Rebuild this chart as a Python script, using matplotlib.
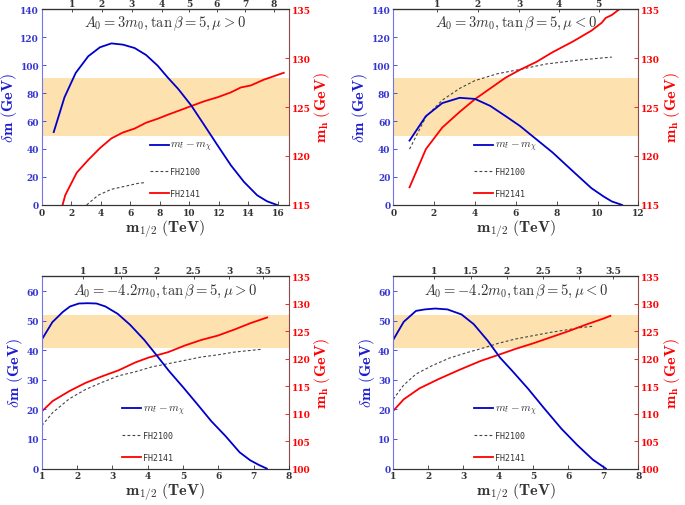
import matplotlib.pyplot as plt

plt.rcParams["font.family"] = "DejaVu Serif"
plt.rcParams["font.weight"] = "bold"
plt.rcParams["mathtext.fontset"] = "cm"

# ---- panel 1: A0 = 3 m0, mu > 0
p1_blue_x = [0.81, 1.54, 2.3, 3.15, 3.94, 4.72, 5.5, 6.29, 7.07, 7.85, 8.52, 9.24, 10.13,
             11.03, 11.92, 12.82, 13.71, 14.6, 15.27, 15.94]
p1_blue_y = [52.1, 77.0, 94.4, 106.3, 112.7, 115.5, 114.6, 112.2, 107.2, 99.6, 91.3, 83.0,
             71.1, 56.8, 42.5, 28.3, 16.4, 6.9, 2.6, 0.0]
p1_red_x = [1.41, 1.59, 2.37, 3.15, 3.94, 4.72, 5.5, 6.29, 7.07, 7.85, 8.52, 9.24, 10.13,
            11.03, 11.92, 12.82, 13.49, 14.16, 15.06, 16.4]
p1_red_mh = [115.0, 116.0, 118.3, 119.6, 120.8, 121.8, 122.4, 122.8, 123.4, 123.8, 124.2,
             124.6, 125.1, 125.6, 126.0, 126.5, 127.0, 127.2, 127.8, 128.5]
p1_fh_x = [3.04, 3.83, 4.72, 5.62, 6.51, 7.07]
p1_fh_mh = [115.0, 116.0, 116.6, 116.9, 117.2, 117.3]
p1_top_pos = [2.05, 4.07, 6.1, 8.12, 10.0, 11.85, 13.8, 15.74]
p1_top_lab = ["1", "2", "3", "4", "5", "6", "7", "8"]

# ---- panel 2: A0 = 3 m0, mu < 0
p2_blue_x = [0.8, 1.6, 2.4, 3.25, 4.0, 4.75, 5.5, 6.2, 7.0, 7.8, 8.8, 9.7, 10.3, 10.7, 11.2]
p2_blue_y = [46.0, 63.5, 72.8, 76.6, 75.8, 70.8, 63.5, 56.5, 47.0, 37.5, 24.0, 12.0, 6.0, 2.5, 0.0]
p2_red_x = [0.8, 1.6, 2.4, 3.25, 4.0, 4.75, 5.5, 6.2, 7.0, 7.8, 8.8, 9.7, 10.2, 10.4, 10.7, 11.2]
p2_red_mh = [116.8, 120.7, 122.9, 124.5, 125.8, 126.9, 128.0, 128.8, 129.6, 130.6, 131.7,
             132.8, 133.6, 134.1, 134.4, 135.2]
p2_fh_x = [0.8, 1.6, 2.4, 3.25, 4.0, 5.1, 6.1, 7.5, 9.1, 10.7]
p2_fh_mh = [120.7, 124.0, 125.7, 126.9, 127.7, 128.4, 128.8, 129.4, 129.8, 130.1]
p2_top_pos = [2.14, 4.15, 6.17, 8.1, 10.05]
p2_top_lab = ["1", "2", "3", "4", "5"]

# ---- panel 3: A0 = -4.2 m0, mu > 0
p3_blue_x = [1.0, 1.3, 1.6, 1.8, 2.05, 2.3, 2.55, 2.8, 3.15, 3.5, 3.9, 4.25, 4.6, 5.0, 5.4,
             5.8, 6.2, 6.6, 6.9, 7.15, 7.37]
p3_blue_y = [43.6, 49.5, 53.0, 54.8, 55.8, 55.9, 55.8, 54.8, 52.3, 48.6, 43.5, 38.3, 33.0,
             27.5, 21.8, 16.0, 11.0, 5.5, 2.8, 1.2, 0.0]
p3_red_x = [1.0, 1.31, 1.78, 2.24, 2.71, 3.18, 3.64, 4.02, 4.58, 5.05, 5.51, 5.98, 6.45, 6.92, 7.38]
p3_red_mh = [110.4, 112.3, 114.1, 115.6, 116.8, 117.9, 119.3, 120.2, 121.2, 122.4, 123.4,
             124.2, 125.3, 126.5, 127.5]
p3_fh_x = [1.0, 1.31, 1.78, 2.24, 2.71, 3.18, 3.64, 4.11, 4.58, 5.05, 5.51, 5.98, 6.45, 7.2]
p3_fh_mh = [107.8, 110.2, 112.7, 114.4, 115.7, 116.9, 117.6, 118.5, 119.1, 119.7, 120.3,
            120.7, 121.2, 121.7]
p3_top_pos = [2.18, 3.23, 4.24, 5.3, 6.3, 7.27]
p3_top_lab = ["1", "1.5", "2", "2.5", "3", "3.5"]

# ---- panel 4: A0 = -4.2 m0, mu < 0
p4_blue_x = [1.0, 1.3, 1.65, 1.9, 2.2, 2.55, 2.95, 3.3, 3.7, 4.05, 4.4, 4.85, 5.3, 5.8,
             6.25, 6.7, 7.07]
p4_blue_y = [43.5, 49.6, 53.3, 53.8, 54.1, 53.8, 52.1, 48.8, 43.2, 37.5, 33.0, 27.0, 20.5,
             13.5, 8.0, 3.0, 0.0]
p4_red_x = [1.0, 1.3, 1.75, 2.3, 2.9, 3.5, 4.05, 4.5, 5.0, 5.5, 6.0, 6.5, 7.0, 7.2]
p4_red_mh = [110.5, 112.6, 114.6, 116.3, 118.0, 119.6, 120.8, 121.8, 122.8, 123.9, 125.0,
             126.2, 127.3, 127.8]
p4_fh_x = [1.0, 1.3, 1.65, 2.1, 2.6, 3.1, 3.6, 4.0, 4.5, 5.0, 5.5, 6.0, 6.4, 6.7]
p4_fh_mh = [112.6, 115.2, 117.2, 118.7, 120.1, 121.1, 122.0, 122.8, 123.6, 124.2, 124.8,
            125.3, 125.7, 125.9]
p4_top_pos = [2.17, 3.22, 4.25, 5.28, 6.29, 7.28]
p4_top_lab = ["1", "1.5", "2", "2.5", "3", "3.5"]

mh_band = (122, 128)

BLUE = "#0000cc"
LEFT_C = "#3535d0"
RED = "#ff0000"
TXT = "#333333"
BAND = "#fde1ae"


def draw_panel(fig, rect, blue, red, fh, top, title, xlim, xticks, ylim, yticks,
               mhlim, mhticks, leg_x):
    ax = fig.add_axes(rect)
    ax2 = ax.twinx()
    ax.set_zorder(ax2.get_zorder() + 1)
    ax.patch.set_visible(False)

    ax2.axhspan(*mh_band, color=BAND, lw=0, zorder=0)
    l_fh, = ax2.plot(*fh, ls=(0, (2.5, 2)), color="#444444", lw=0.8)
    l_red, = ax2.plot(*red, color=RED, lw=1.3)
    l_blue, = ax.plot(*blue, color=BLUE, lw=1.3)

    ax.set_xlim(*xlim)
    ax.set_xticks(xticks)
    ax.set_ylim(*ylim)
    ax.set_yticks(yticks)
    ax2.set_ylim(*mhlim)
    ax2.set_yticks(mhticks)

    ax.tick_params(direction="in", length=3, width=0.6, labelsize=6.5, pad=2)
    ax.tick_params(axis="x", colors=TXT)
    ax.tick_params(axis="y", colors=LEFT_C)
    ax2.tick_params(direction="in", length=3, width=0.6, labelsize=6.5, colors=RED, pad=2)

    ax.spines["right"].set_visible(False)
    ax.spines["left"].set_color("#7474ee")
    ax2.spines["left"].set_visible(False)
    ax2.spines["right"].set_color("#8a4a4a")
    for a in (ax, ax2):
        a.spines["top"].set_color(TXT)
        a.spines["bottom"].set_color(TXT)

    sec = ax.secondary_xaxis("top")
    sec.set_xticks(top[0], labels=top[1])
    sec.tick_params(direction="in", length=2, width=0.6, labelsize=6.5, pad=1, colors=TXT)

    ax.set_ylabel(r"$\delta\mathbf{m\ (GeV)}$", color="#1c1cd0", fontsize=11.5, labelpad=1)
    ax2.set_ylabel(r"$\mathbf{m_h\ (GeV)}$", color=RED, fontsize=11.5, labelpad=1)
    ax.set_xlabel(r"$\mathbf{m_{1/2}\ (TeV)}$", color=TXT, fontsize=11.5, labelpad=0)

    ax.text(0.5, 0.975, title, transform=ax.transAxes, ha="center", va="top",
            fontsize=10.5, color=TXT)

    leg = ax.legend([l_blue, l_fh, l_red], [r"$m_{\tilde{t}} - m_\chi$", "FH2100", "FH2141"],
                    loc="lower left", bbox_to_anchor=(leg_x, 0.035), frameon=False,
                    prop={"family": "DejaVu Sans Mono", "size": 6, "weight": "normal"},
                    handlelength=2.3, handletextpad=0.2, labelspacing=1.6,
                    borderpad=0, borderaxespad=0)
    leg.get_texts()[0].set_fontsize(8)
    for t in leg.get_texts():
        t.set_color(TXT)


fig = plt.figure(figsize=(6.85, 5.06), dpi=100)

draw_panel(fig, [0.061, 0.593, 0.361, 0.387],
           (p1_blue_x, p1_blue_y), (p1_red_x, p1_red_mh), (p1_fh_x, p1_fh_mh),
           (p1_top_pos, p1_top_lab), r"$A_0 = 3m_0, \tan\beta = 5, \mu > 0$",
           (0, 16.76), range(0, 17, 2), (0, 140), range(0, 141, 20),
           (115, 135), range(115, 136, 5), 0.436)
draw_panel(fig, [0.574, 0.593, 0.358, 0.387],
           (p2_blue_x, p2_blue_y), (p2_red_x, p2_red_mh), (p2_fh_x, p2_fh_mh),
           (p2_top_pos, p2_top_lab), r"$A_0 = 3m_0, \tan\beta = 5, \mu < 0$",
           (0, 12), range(0, 13, 2), (0, 140), range(0, 141, 20),
           (115, 135), range(115, 136, 5), 0.33)
draw_panel(fig, [0.061, 0.072, 0.361, 0.380],
           (p3_blue_x, p3_blue_y), (p3_red_x, p3_red_mh), (p3_fh_x, p3_fh_mh),
           (p3_top_pos, p3_top_lab), r"$A_0 = -4.2m_0, \tan\beta = 5, \mu > 0$",
           (1, 8), range(1, 9), (0, 65), range(0, 61, 10),
           (100, 135), range(100, 136, 5), 0.324)
draw_panel(fig, [0.574, 0.072, 0.358, 0.380],
           (p4_blue_x, p4_blue_y), (p4_red_x, p4_red_mh), (p4_fh_x, p4_fh_mh),
           (p4_top_pos, p4_top_lab), r"$A_0 = -4.2m_0, \tan\beta = 5, \mu < 0$",
           (1, 8), range(1, 9), (0, 65), range(0, 61, 10),
           (100, 135), range(100, 136, 5), 0.33)

fig.savefig("out.png", dpi=100)
